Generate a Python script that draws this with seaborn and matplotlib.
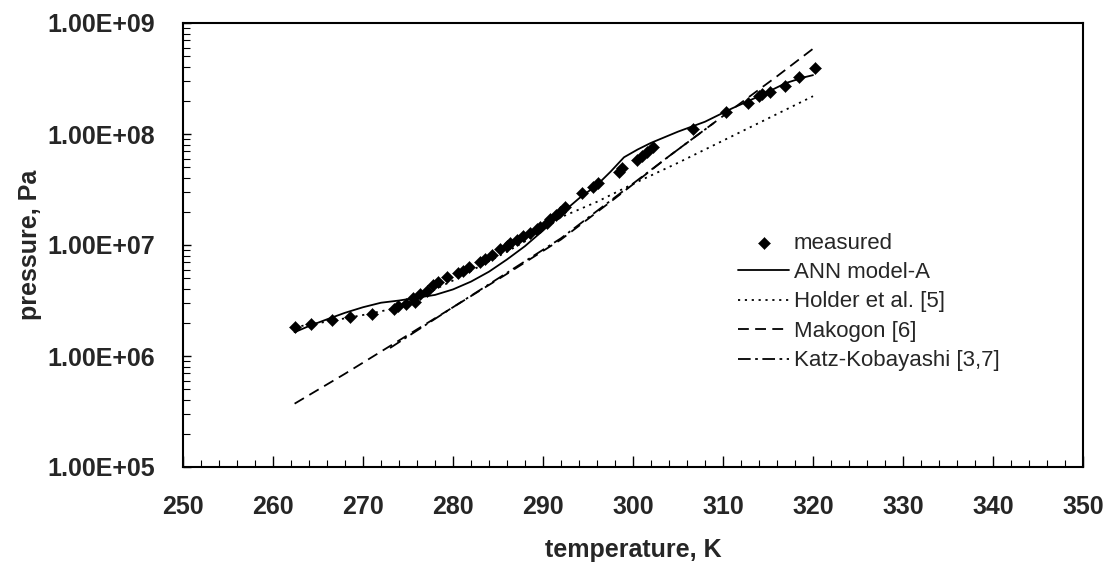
import numpy as np
import pandas as pd
import matplotlib
matplotlib.use("Agg")
import matplotlib.pyplot as plt
import matplotlib.ticker as mticker
import seaborn as sns

# ---------------- data ----------------
meas_T = [262.4, 264.2, 266.5, 268.6, 271.0, 273.4, 273.9, 274.8, 275.6, 275.8,
          276.3, 277.1, 277.8, 278.3, 279.3, 280.6, 281.1, 281.8, 283.0, 283.6,
          284.3, 285.2, 286.0, 286.3, 287.1, 287.8, 288.6, 289.3, 289.7, 290.4,
          290.8, 291.4, 291.9, 292.4, 294.3, 295.6, 296.1, 298.4, 298.8, 300.4,
          301.0, 301.6, 302.2, 306.7, 310.3, 312.8, 314.0, 314.3, 315.2, 316.9,
          318.4, 320.2]
meas_P = [1.82e6, 1.95e6, 2.09e6, 2.24e6, 2.40e6, 2.63e6, 2.82e6, 2.95e6, 3.31e6, 3.09e6,
          3.63e6, 3.89e6, 4.37e6, 4.68e6, 5.13e6, 5.62e6, 5.89e6, 6.31e6, 7.08e6, 7.41e6,
          8.13e6, 9.12e6, 9.77e6, 1.05e7, 1.10e7, 1.20e7, 1.29e7, 1.38e7, 1.45e7, 1.58e7,
          1.70e7, 1.86e7, 2.00e7, 2.19e7, 2.95e7, 3.31e7, 3.63e7, 4.57e7, 4.90e7, 5.89e7,
          6.31e7, 6.92e7, 7.59e7, 1.12e8, 1.58e8, 1.91e8, 2.19e8, 2.29e8, 2.40e8, 2.69e8,
          3.24e8, 3.94e8]

ann_T = [262.4, 264, 266, 268, 270, 272, 274, 276, 278, 280, 282, 284, 286, 288, 290,
         292, 294, 296, 297.5, 299, 300.5, 302, 305, 308, 311, 314, 317, 319, 320]
ann_P = [1.64e6, 1.86e6, 2.14e6, 2.45e6, 2.75e6, 3.02e6, 3.16e6, 3.35e6, 3.55e6, 3.98e6,
         4.68e6, 5.75e6, 7.41e6, 9.77e6, 1.35e7, 1.91e7, 2.63e7, 3.47e7, 4.57e7, 6.17e7,
         7.24e7, 8.32e7, 1.05e8, 1.29e8, 1.70e8, 2.19e8, 2.88e8, 3.24e8, 3.39e8]

holder_T = [262.4, 266, 270, 273, 275, 277, 280, 283, 286, 289, 292, 296, 300, 305,
            310, 315, 320]
holder_P = [1.82e6, 2.04e6, 2.34e6, 2.63e6, 3.02e6, 3.63e6, 4.79e6, 6.46e6, 8.71e6,
            1.20e7, 1.78e7, 2.45e7, 3.55e7, 5.50e7, 8.71e7, 1.38e8, 2.19e8]

mak_T = [262.4, 268, 274, 280, 286, 292, 298, 304, 310, 316, 320.2]
mak_P = [3.72e5, 6.92e5, 1.38e6, 2.75e6, 5.50e6, 1.12e7, 2.63e7, 6.31e7, 1.45e8,
         3.31e8, 6.03e8]

kk_T = [273, 280, 286, 292, 298, 304, 309]
kk_P = [1.18e6, 2.75e6, 5.62e6, 1.15e7, 2.69e7, 6.31e7, 1.26e8]

x_ticks = [250, 260, 270, 280, 290, 300, 310, 320, 330, 340, 350]
y_ticks = [1e5, 1e6, 1e7, 1e8, 1e9]

labels = ["measured", "ANN model-A", "Holder et al. [5]", "Makogon [6]",
          "Katz-Kobayashi [3,7]"]

# ---------------- figure ----------------
sns.set_theme(style="white")
plt.rcParams['font.family'] = ['Liberation Sans', 'DejaVu Sans']

fig = plt.figure(figsize=(11.08, 5.65), dpi=100)
ax = fig.add_axes([183 / 1108, 98 / 565, 900 / 1108, 444 / 565])

lw = 1.3
sns.lineplot(x=ann_T, y=ann_P, ax=ax, color="black", lw=lw, sort=False,
             estimator=None, label=labels[1])
sns.lineplot(x=holder_T, y=holder_P, ax=ax, color="black", lw=lw, sort=False,
             estimator=None, label=labels[2])
sns.lineplot(x=mak_T, y=mak_P, ax=ax, color="black", lw=lw, sort=False,
             estimator=None, label=labels[3])
sns.lineplot(x=kk_T, y=kk_P, ax=ax, color="black", lw=lw, sort=False,
             estimator=None, label=labels[4])
lines = ax.get_lines()
lines[1].set_dashes([1.2, 2.6])
lines[2].set_dashes([6, 3.5])
lines[3].set_dashes([7, 2.5, 1.5, 2.5])

sns.scatterplot(x=meas_T, y=meas_P, ax=ax, marker="D", s=38, color="black",
                edgecolor="black", linewidth=0.3, label=labels[0], zorder=3)

ax.set_yscale("log")
ax.set_xlim(250, 350)
ax.set_ylim(1e5, 1e9)
ax.set_xticks(x_ticks)
ax.xaxis.set_minor_locator(mticker.MultipleLocator(2))
ax.set_yticks(y_ticks)
ax.yaxis.set_minor_locator(mticker.LogLocator(base=10, subs=np.arange(2, 10)))
ax.yaxis.set_minor_formatter(mticker.NullFormatter())
ax.yaxis.set_major_formatter(mticker.FuncFormatter(lambda v, p: f"{v:.2E}"))

ax.tick_params(axis="both", which="both", direction="in", color="black",
               bottom=True, left=True, top=False, right=False)
ax.tick_params(axis="x", which="major", length=8, width=1, pad=20,
               labelsize=18)
ax.tick_params(axis="x", which="minor", length=5, width=0.8)
ax.tick_params(axis="y", which="major", length=6, width=1, pad=20,
               labelsize=18)
ax.tick_params(axis="y", which="minor", length=5, width=0.8)
for lab in ax.get_xticklabels() + ax.get_yticklabels():
    lab.set_fontweight("bold")

for s in ax.spines.values():
    s.set_visible(True)
    s.set_color("black")
    s.set_linewidth(1.5)

ax.set_xlabel("temperature, K", fontsize=18, fontweight="bold", labelpad=14)
ax.set_ylabel("pressure, Pa", fontsize=18, fontweight="bold", labelpad=4)
ax.grid(False)

handles, labs = ax.get_legend_handles_labels()
order = [labs.index(l) for l in labels]
leg = ax.legend([handles[i] for i in order], [labs[i] for i in order],
                loc="upper left", bbox_to_anchor=(0.617, 0.528), frameon=False,
                fontsize=16, handlelength=2.3, handletextpad=0.2,
                labelspacing=0.38, borderpad=0, borderaxespad=0)

fig.savefig("out.png", dpi=100, facecolor="white")
